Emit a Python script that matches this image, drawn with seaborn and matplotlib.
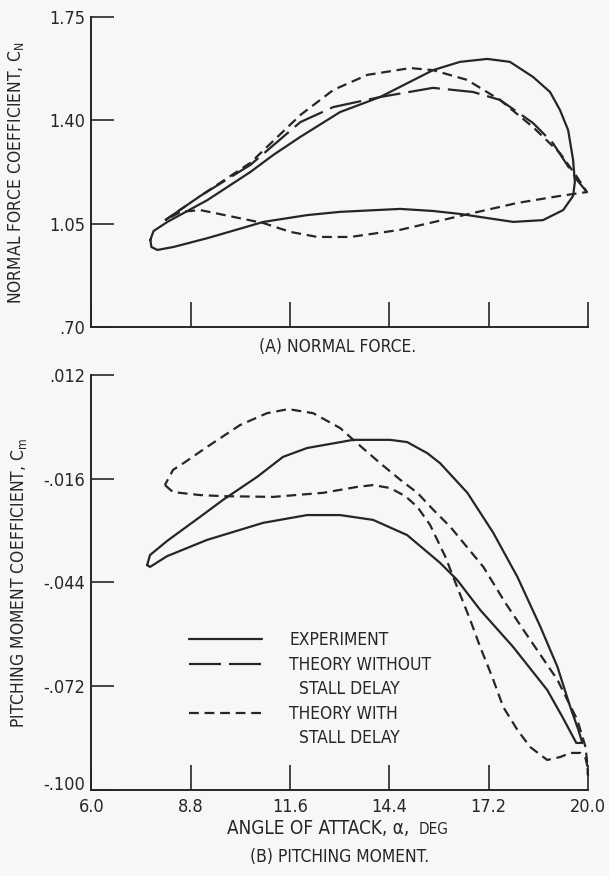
import matplotlib
matplotlib.use('Agg')
import matplotlib.pyplot as plt
import seaborn as sns
import pandas as pd
from matplotlib.lines import Line2D

# ---------------- data ----------------
x_ticks = [6.0, 8.8, 11.6, 14.4, 17.2, 20.0]
x_tick_labels = ['6.0', '8.8', '11.6', '14.4', '17.2', '20.0']
cn_ticks = [0.70, 1.05, 1.40, 1.75]
cn_tick_labels = ['.70', '1.05', '1.40', '1.75']
cm_ticks = [-0.100, -0.072, -0.044, -0.016, 0.012]
cm_tick_labels = ['-.100', '-.072', '-.044', '-.016', '.012']

# (A) normal force, experiment (closed loop)
exp_cn_alpha = [7.66, 7.75, 8.14, 9.27, 10.48, 11.13, 11.89, 13.01, 14.14, 15.63, 16.39,
                17.16, 17.80, 18.45, 18.93, 19.21, 19.44, 19.58, 19.63, 19.58, 19.30,
                18.73, 17.89, 17.16, 16.39, 15.63, 14.70, 13.01, 12.08, 10.85, 9.27,
                8.31, 7.86, 7.69, 7.66]
exp_cn = [0.995, 1.025, 1.056, 1.130, 1.225, 1.283, 1.344, 1.428, 1.479, 1.570, 1.598,
          1.608, 1.598, 1.547, 1.496, 1.435, 1.367, 1.266, 1.191, 1.144, 1.096,
          1.062, 1.056, 1.069, 1.083, 1.093, 1.100, 1.090, 1.079, 1.056, 1.001,
          0.971, 0.961, 0.971, 0.995]

# (A) normal force, theory with stall delay (closed loop)
with_cn_alpha = [8.08, 9.07, 10.48, 11.89, 12.82, 13.78, 14.99, 15.63, 16.59, 17.52, 18.45,
                 19.21, 19.69, 19.97, 19.21, 18.00, 16.39, 14.70, 13.30, 12.37, 11.61,
                 10.85, 10.00, 9.07, 8.51, 8.08]
with_cn = [1.062, 1.144, 1.256, 1.418, 1.503, 1.554, 1.577, 1.570, 1.537, 1.469, 1.377,
           1.289, 1.208, 1.157, 1.144, 1.120, 1.076, 1.029, 1.005, 1.005, 1.022,
           1.052, 1.073, 1.096, 1.090, 1.062]

# (A) normal force, theory without stall delay (upper branch; lower branch shared)
without_cn_alpha = [8.08, 9.07, 10.48, 11.89, 12.82, 14.14, 15.63, 16.76, 17.52, 18.45,
                    19.01, 19.69, 19.97]
without_cn = [1.062, 1.144, 1.249, 1.394, 1.445, 1.479, 1.510, 1.496, 1.469, 1.391,
              1.323, 1.198, 1.157]

# (B) pitching moment, experiment (closed loop)
exp_cm_alpha = [7.57, 7.65, 8.13, 9.06, 9.71, 10.67, 11.40, 12.08, 13.38, 14.42, 14.90,
                15.47, 15.83, 16.60, 17.33, 18.01, 18.66, 19.14, 19.50, 19.73, 19.84,
                19.67, 19.28, 18.85, 17.89, 16.96, 16.31, 15.83, 14.90, 13.94, 13.01,
                12.08, 10.84, 9.26, 8.13, 7.65, 7.57]
exp_cm = [-0.0393, -0.0366, -0.0328, -0.0263, -0.0217, -0.0155, -0.0101, -0.0077,
          -0.0055, -0.0055, -0.0061, -0.0091, -0.0118, -0.0198, -0.0306, -0.0425,
          -0.0560, -0.0668, -0.0776, -0.0838, -0.0873, -0.0873, -0.0803, -0.0730,
          -0.0614, -0.0514, -0.0433, -0.0387, -0.0312, -0.0271, -0.0258, -0.0258,
          -0.0279, -0.0325, -0.0369, -0.0398, -0.0393]

# (B) pitching moment, theory with stall delay (closed loop)
with_cm_alpha = [8.07, 8.30, 9.06, 9.71, 11.12, 12.53, 13.49, 13.94, 14.42, 14.85, 15.19,
                 15.55, 15.75, 15.98, 16.31, 16.68, 16.96, 17.30, 17.61, 18.01, 18.37,
                 18.85, 19.22, 19.50, 19.79, 19.93, 19.98, 20.00, 19.97, 19.93, 19.70,
                 19.14, 18.18, 17.67, 17.05, 16.12, 15.64, 15.19, 14.71, 14.14, 13.49,
                 13.01, 12.25, 11.55, 10.95, 10.19, 9.26, 8.64, 8.30, 8.07]
with_cm = [-0.0177, -0.0196, -0.0204, -0.0207, -0.0209, -0.0198, -0.0182, -0.0177,
           -0.0185, -0.0207, -0.0236, -0.0285, -0.0325, -0.0371, -0.0452, -0.0541,
           -0.0614, -0.0695, -0.0776, -0.0838, -0.0884, -0.0919, -0.0911, -0.0900,
           -0.0900, -0.0914, -0.0935, -0.0960, -0.0919, -0.0884, -0.0811, -0.0703,
           -0.0568, -0.0495, -0.0398, -0.0290, -0.0244, -0.0198, -0.0163, -0.0118,
           -0.0064, -0.0023, 0.0017, 0.0028, 0.0017, -0.0015, -0.0074, -0.0115,
           -0.0136, -0.0177]

legend_labels = ['EXPERIMENT', 'THEORY WITHOUT', '  STALL DELAY', 'THEORY WITH', '  STALL DELAY']

# ---------------- style ----------------
BG = '#f7f7f5'
INK = '#262626'
SOLID = '-'
LONG = (0, (14.4, 3.6))
SHORT = (0, (4.4, 2.6))

sns.set_theme(style='white')
plt.rcParams['font.family'] = ['DejaVu Sans']
plt.rcParams['font.stretch'] = 'condensed'
plt.rcParams['mathtext.default'] = 'regular'
plt.rcParams['text.color'] = INK
FS = 12.5
TFS = 13

fig = plt.figure(figsize=(6.09, 8.76), dpi=100)
fig.patch.set_facecolor(BG)
ax1 = fig.add_axes([0.1502, 0.6267, 0.8153, 0.3539])
ax2 = fig.add_axes([0.1502, 0.0982, 0.8153, 0.4737])


def draw(ax, xs, ys, ls):
    df = pd.DataFrame({'a': xs, 'v': ys})
    sns.lineplot(data=df, x='a', y='v', sort=False, estimator=None, ax=ax,
                 color=INK, linewidth=1.6, linestyle=ls, clip_on=False)


draw(ax1, exp_cn_alpha, exp_cn, SOLID)
draw(ax1, with_cn_alpha, with_cn, SHORT)
draw(ax1, without_cn_alpha, without_cn, LONG)

draw(ax2, exp_cm_alpha, exp_cm, SOLID)
draw(ax2, with_cm_alpha, with_cm, SHORT)

for ax in (ax1, ax2):
    ax.set_facecolor(BG)
    ax.set_xlim(6.0, 20.0)
    for s in ('top', 'right'):
        ax.spines[s].set_visible(False)
    for s in ('left', 'bottom'):
        ax.spines[s].set_linewidth(1.4)
        ax.spines[s].set_color(INK)
    ax.set_xticks(x_ticks)
    ax.tick_params(axis='y', direction='in', length=16.5, width=1.2, color=INK,
                   labelsize=TFS, labelcolor=INK, pad=4.5, left=True)
    ax.tick_params(axis='x', direction='in', length=18, width=1.2, color=INK,
                   labelsize=TFS, labelcolor=INK, pad=6.0, bottom=True)
    ax.set_xlabel('')

ax1.set_ylim(0.70, 1.75)
ax1.set_yticks(cn_ticks)
ax1.set_yticklabels(cn_tick_labels)
ax1.set_xticklabels([])
ax1.set_ylabel('NORMAL FORCE COEFFICIENT, C$_N$', fontsize=FS, color=INK)
ax1.yaxis.set_label_coords(-0.132, 0.5)

ax2.set_ylim(-0.100, 0.012)
ax2.set_yticks(cm_ticks)
ax2.set_yticklabels(cm_tick_labels)
ax2.set_xticklabels(x_tick_labels)
ax2.get_yticklabels()[0].set_verticalalignment('baseline')
ax2.set_ylabel('PITCHING MOMENT COEFFICIENT, C$_m$', fontsize=FS, color=INK)
ax2.yaxis.set_label_coords(-0.125, 0.5)

fig.text(0.555, 1 - 347 / 876, '(A) NORMAL FORCE.', ha='center', va='center', fontsize=FS)
fig.text(0.558, 1 - 857 / 876, '(B) PITCHING MOMENT.', ha='center', va='center', fontsize=FS)
fig.text(415 / 609, 1 - 829 / 876, 'ANGLE OF ATTACK, α, ', ha='right', va='center', fontsize=13.6)
fig.text(419 / 609, 1 - 830 / 876, 'DEG', ha='left', va='center', fontsize=11)

handles = [Line2D([], [], color=INK, lw=1.6, ls=SOLID),
           Line2D([], [], color=INK, lw=1.6, ls=LONG),
           Line2D([], [], color='none', lw=0),
           Line2D([], [], color=INK, lw=1.6, ls=SHORT),
           Line2D([], [], color='none', lw=0)]
ax2.legend(handles, legend_labels, loc='upper left', bbox_to_anchor=(0.196, 0.383),
           frameon=False, fontsize=FS, handlelength=4.2, handletextpad=1.6,
           labelspacing=0.38, borderpad=0, borderaxespad=0)

fig.savefig('out.png', dpi=100, facecolor=BG)
